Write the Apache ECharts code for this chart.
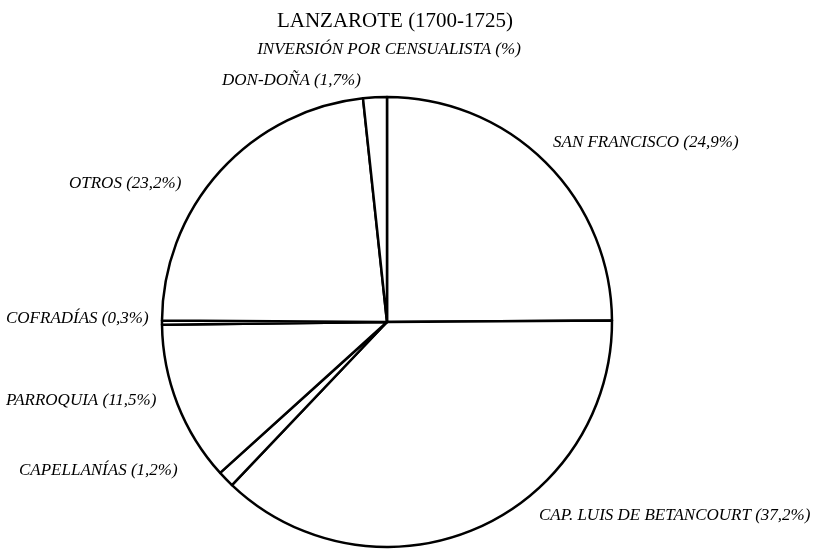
<!DOCTYPE html>
<html>
<head>
<meta charset="utf-8">
<script src="https://cdn.jsdelivr.net/npm/echarts@6/dist/echarts.min.js"></script>
</head>
<body style="margin:0;background:#fff;">
<div id="main" style="width: 814px;height:549px;"></div>

<script type="text/javascript">
// censualistas, clockwise from 12 o'clock
var names = ['SAN FRANCISCO', 'CAP. LUIS DE BETANCOURT', 'CAPELLANÍAS', 'PARROQUIA', 'COFRADÍAS', 'OTROS', 'DON-DOÑA'];
var shares = [24.9, 37.2, 1.2, 11.5, 0.3, 23.2, 1.7];
var shareLabels = ['24,9', '37,2', '1,2', '11,5', '0,3', '23,2', '1,7'];

// where each label sits (left edge, vertical middle)
var labelPos = [[553, 143], [539, 516], [19, 471], [6, 401], [6, 319], [69, 184], [222, 81]];

var pieData = [];
for (var i = 0; i < names.length; i++) {
    pieData.push({ name: names[i], value: shares[i], txt: names[i] + ' (' + shareLabels[i] + '%)' });
}

var option = {
    animation: false,
    title: [{
        text: 'LANZAROTE (1700-1725)',
        left: 390,
        top: 6,
        textAlign: 'center',
        textStyle: {
            fontFamily: 'Liberation Serif',
            fontWeight: 'normal',
            fontSize: 21,
            color: '#000'
        }
    }, {
        text: 'INVERSIÓN POR CENSUALISTA (%)',
        left: 384,
        top: 36,
        textAlign: 'center',
        textStyle: {
            fontFamily: 'Liberation Serif',
            fontStyle: 'italic',
            fontWeight: 'normal',
            fontSize: 17,
            color: '#000'
        }
    }],
    series: [{
        type: 'pie',
        silent: true,
        center: [387, 322],
        radius: 225,
        startAngle: 90,
        clockwise: true,
        minAngle: 0,
        itemStyle: {
            color: '#fff',
            borderColor: '#000',
            borderWidth: 2.5
        },
        label: {
            show: true,
            position: 'outside',
            overflow: 'none',
            formatter: function (p) { return p.data.txt; },
            fontFamily: 'Liberation Serif',
            fontStyle: 'italic',
            fontSize: 17,
            color: '#000'
        },
        labelLine: { show: false },
        labelLayout: function (params) {
            var p = labelPos[params.dataIndex];
            return { x: p[0], y: p[1], align: 'left', verticalAlign: 'middle', hideOverlap: false };
        },
        emphasis: { disabled: true },
        data: pieData
    }]
};

var myChart = echarts.init(document.getElementById('main'));
myChart.setOption(option);
</script>
</body>
</html>
